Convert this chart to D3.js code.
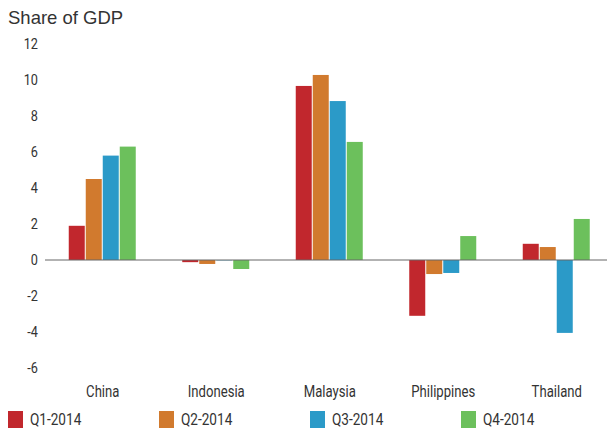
<!DOCTYPE html>
<html>
<head>
<meta charset="utf-8">
<script src="https://cdn.jsdelivr.net/npm/d3@7"></script>
<style>
  html, body { margin: 0; padding: 0; background: #fff; }
  svg { display: block; }
  .tick-label, .cat-label, .legend-label { font-family: "Roboto", "Liberation Sans", sans-serif; fill: #333; }
</style>
</head>
<body>
<svg id="chart" width="607" height="428"></svg>
<script>
// Countries and quarterly shares of GDP
const countries = ["China", "Indonesia", "Malaysia", "Philippines", "Thailand"];
const quarters = ["Q1-2014", "Q2-2014", "Q3-2014", "Q4-2014"];
const q1 = [1.9, -0.12, 9.67, -3.1, 0.9];
const q2 = [4.5, -0.22, 10.28, -0.78, 0.72];
const q3 = [5.8, -0.02, 8.83, -0.72, -4.05];
const q4 = [6.3, -0.5, 6.56, 1.33, 2.28];
const yTicks = [12, 10, 8, 6, 4, 2, 0, -2, -4, -6];
const colors = ["#c1272d", "#d17a2e", "#2b9ac8", "#6cc05c"];

const series = [q1, q2, q3, q4];
const svg = d3.select("#chart");

const y = d3.scaleLinear().domain([-6, 12]).range([368, 44]);
const x0 = d3.scaleBand().domain(countries).range([46, 613.5]).padding(0);
const x1 = d3.scaleBand().domain(quarters).range([0, 68]).padding(0);

// Title
svg.append("text")
  .attr("x", 8).attr("y", 24)
  .attr("font-family", "Liberation Sans, Arial, sans-serif")
  .attr("font-size", 18.5).attr("fill", "#333")
  .text("Share of GDP");

// Y axis labels (condensed)
svg.append("g").selectAll("text").data(yTicks).join("text")
  .attr("class", "tick-label")
  .attr("transform", d => `translate(38,${y(d)}) scale(0.82,1)`)
  .attr("dy", "0.35em")
  .attr("text-anchor", "end").attr("font-size", 15.5)
  .text(d => d);

// Bars
const groups = svg.append("g").selectAll("g").data(countries).join("g")
  .attr("transform", c => `translate(${x0(c) + x0.bandwidth() / 2 - 34},0)`);

groups.selectAll("rect")
  .data((c, i) => quarters.map((q, k) => ({ q, k, v: series[k][i] })))
  .join("rect")
  .attr("x", d => x1(d.q))
  .attr("width", x1.bandwidth() - 1)
  .attr("y", d => y(Math.max(0, d.v)))
  .attr("height", d => Math.abs(y(d.v) - y(0)))
  .attr("fill", d => colors[d.k]);

// Zero baseline
svg.append("line")
  .attr("x1", 45).attr("x2", 607)
  .attr("y1", y(0)).attr("y2", y(0))
  .attr("stroke", "#666").attr("stroke-width", 1);

// Category labels (condensed)
svg.append("g").selectAll("text").data(countries).join("text")
  .attr("class", "cat-label")
  .attr("transform", c => `translate(${x0(c) + x0.bandwidth() / 2},397) scale(0.82,1)`)
  .attr("text-anchor", "middle").attr("font-size", 16)
  .text(c => c);

// Legend
const legend = svg.append("g").selectAll("g").data(quarters).join("g")
  .attr("transform", (q, i) => `translate(${8 + i * 151},411)`);
legend.append("rect")
  .attr("width", 15).attr("height", 17)
  .attr("fill", (q, i) => colors[i]);
legend.append("text")
  .attr("class", "legend-label")
  .attr("transform", "translate(22,14) scale(0.85,1)")
  .attr("font-size", 16)
  .text(q => q);
</script>
</body>
</html>
